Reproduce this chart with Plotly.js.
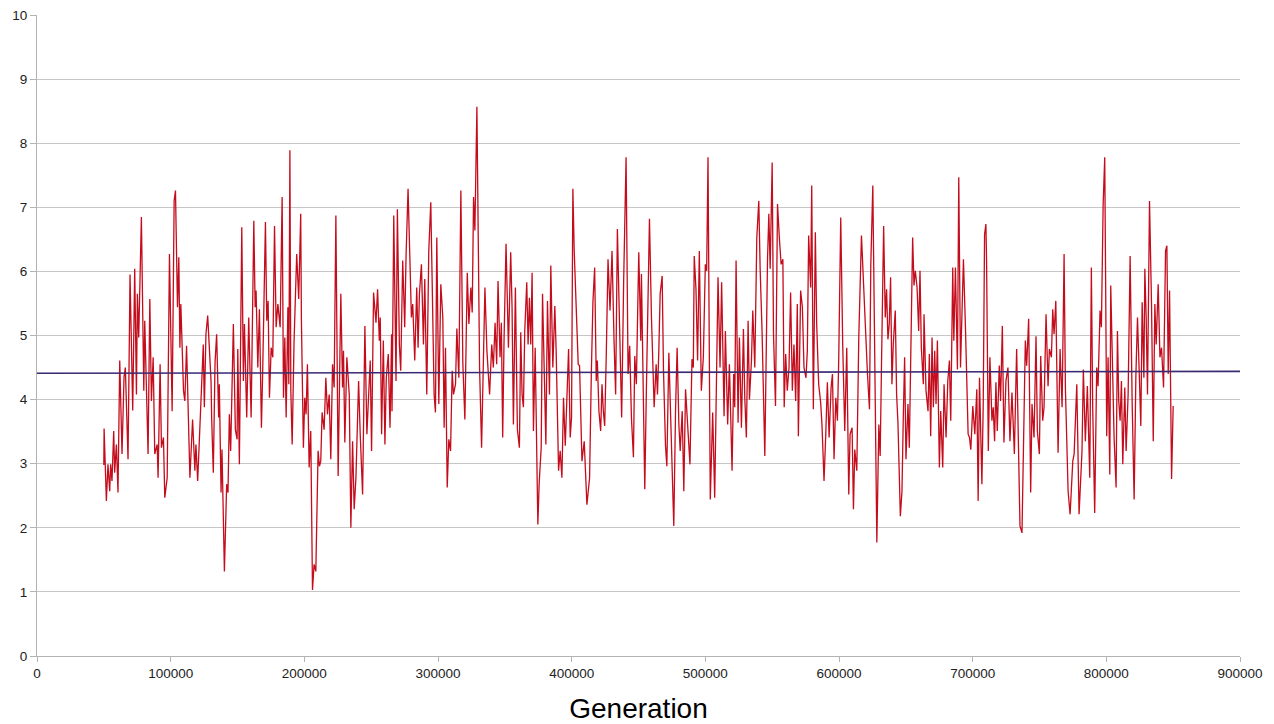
<!DOCTYPE html>
<html>
<head>
<meta charset="utf-8">
<script src="https://cdn.plot.ly/plotly-3.0.1.min.js"></script>
<style>
html,body{margin:0;padding:0;background:#fff;}
#chart{width:1274px;height:724px;}
</style>
</head>
<body>
<div id="chart"></div>
<script>
// Generation (in thousands) and value
const genK = [
50.0,50.2,51.9,53.1,54.4,55.1,56.1,57.4,58.1,59.4,60.6,61.9,63.6,65.1,66.1,68.1,69.6,71.6,73.1,74.4,75.1,76.1,78.1,79.9,80.6,83.1,84.4,85.6,86.9,88.1,89.9,90.6,92.1,93.1,94.6,95.6,97.4,99.1,101.1,102.6,103.6,104.4,105.1,106.1,106.9,107.6,109.6,110.6,111.9,114.4,116.4,118.1,
118.9,120.2,122.7,123.4,124.4,125.2,126.4,127.7,130.2,130.7,131.9,133.2,134.4,135.9,136.4,137.7,138.4,140.2,141.9,142.9,143.9,144.9,145.9,146.9,148.4,149.7,150.2,151.4,153.2,154.4,155.2,156.9,158.4,160.2,162.2,163.2,163.9,165.2,166.4,167.9,168.9,170.9,171.9,172.9,173.9,175.2,176.4,177.7,178.9,180.2,181.9,183.4,184.4,185.4,186.4,187.7,188.4,189.2,189.9,190.9,
192.3,194.3,195.8,197.3,197.8,199.3,200.3,201.3,202.3,203.6,204.8,206.1,207.3,208.6,210.3,211.3,212.3,213.3,214.8,216.1,217.3,218.6,219.8,221.1,222.3,223.6,225.3,227.3,228.6,229.3,230.3,231.8,233.6,234.8,236.1,237.3,238.6,240.6,241.8,243.6,245.3,246.8,247.8,249.3,250.3,251.8,253.6,254.8,256.1,256.8,257.8,259.1,260.3,261.3,262.8,264.1,265.3,
265.6,266.9,268.6,269.6,271.1,272.1,273.6,275.1,276.1,277.6,278.6,280.1,281.1,282.6,284.1,285.1,286.1,287.6,289.1,290.1,291.6,293.1,294.6,295.6,297.1,298.1,299.1,300.6,302.1,303.6,304.6,305.6,306.9,308.1,309.4,310.6,311.6,313.1,314.1,315.6,317.1,318.6,320.1,321.9,323.1,324.6,325.6,326.6,327.6,329.1,330.1,331.1,332.6,334.1,335.1,336.6,337.6,338.6,
340.2,341.4,342.7,343.9,344.9,346.4,347.4,348.4,349.4,350.9,352.7,354.4,355.4,356.4,357.9,359.4,360.9,361.9,362.9,363.9,364.9,366.4,367.4,368.4,369.4,370.4,371.4,372.7,374.7,375.7,377.2,378.2,379.7,380.7,381.9,383.4,384.4,385.9,387.4,388.4,390.2,391.4,392.7,393.9,395.2,396.4,397.7,398.9,399.9,400.9,401.9,404.9,405.9,407.7,409.4,411.4,
413.4,414.7,415.9,417.2,418.4,419.2,420.4,421.7,422.7,423.7,424.7,425.9,427.2,428.7,430.2,431.7,432.9,434.2,435.9,437.4,438.9,440.7,442.2,443.4,444.7,446.2,447.2,448.4,450.2,451.7,452.2,453.2,454.7,455.9,458.2,459.7,461.7,463.2,464.2,465.2,466.2,467.7,468.7,470.2,471.2,472.7,474.2,475.2,476.4,477.7,478.9,480.2,481.2,482.7,483.9,485.2,
486.7,488.5,490.0,491.0,491.7,493.0,494.2,495.5,497.0,498.5,500.0,501.0,502.0,503.7,505.5,507.0,509.5,511.0,512.2,514.0,515.0,516.7,518.0,519.0,520.0,521.2,522.0,523.0,524.5,525.5,527.0,528.5,529.5,530.7,532.0,533.0,534.5,535.5,537.0,538.5,540.0,541.0,542.5,544.5,545.5,546.5,547.5,548.5,550.0,551.0,552.5,554.0,555.5,556.7,558.0,559.0,
560.1,561.3,562.6,563.8,565.1,566.3,567.6,568.8,569.6,571.3,572.6,573.8,575.3,576.3,577.3,578.8,579.6,580.8,582.3,583.3,584.8,586.3,587.3,588.8,590.1,591.3,592.6,594.1,595.1,596.3,597.6,598.8,599.8,601.3,602.8,604.3,605.8,607.3,608.3,609.8,610.8,611.8,613.3,614.8,616.8,617.8,619.3,621.3,622.8,623.8,625.3,626.3,628.3,629.8,630.8,631.8,
633.4,634.6,635.6,636.6,637.6,638.6,639.6,640.6,642.1,643.1,644.1,645.9,647.1,648.1,649.1,650.1,651.6,652.6,654.1,655.1,656.1,657.1,658.4,659.6,660.6,661.6,663.1,663.6,665.1,666.6,667.6,668.6,669.6,670.6,671.6,672.6,673.6,675.1,676.1,677.6,678.6,680.1,681.4,682.6,683.6,685.1,685.9,687.1,688.6,689.6,690.9,692.1,693.1,694.6,696.6,697.6,698.6,700.1,701.6,703.1,704.1,705.1,
706.9,707.9,708.9,709.9,710.4,711.7,712.9,714.4,715.4,716.4,717.4,718.4,719.9,720.9,722.2,723.4,724.9,726.4,727.9,729.4,731.2,732.9,734.4,735.4,736.9,738.4,739.4,740.4,741.9,743.4,744.4,745.9,747.4,748.4,749.9,750.9,752.4,753.4,754.9,756.4,757.4,758.9,759.9,760.9,762.2,763.9,765.4,766.9,768.4,769.4,771.4,772.9,774.9,775.9,777.9,
779.6,780.8,781.8,782.8,784.3,785.8,787.6,788.8,789.8,791.3,792.8,793.8,795.3,796.3,797.6,798.8,799.3,800.3,801.3,802.6,803.3,804.6,805.8,807.3,808.3,809.3,810.3,811.3,812.3,813.8,814.8,816.3,817.8,819.3,820.8,822.1,823.3,824.8,825.8,826.8,828.1,828.8,829.8,830.8,831.6,832.3,833.8,835.1,836.3,837.3,838.8,840.1,841.3,842.8,844.3,845.3,846.3,847.3,848.8,850.0
];
const values = [
2.98,3.55,2.42,2.99,2.57,2.99,2.73,3.51,2.86,3.30,2.55,4.61,3.15,4.35,4.50,3.07,5.95,3.83,6.04,4.08,5.65,4.97,6.85,4.14,5.23,3.15,5.57,3.98,4.66,3.15,3.30,2.78,4.55,3.25,3.41,2.47,2.78,6.27,3.82,7.10,7.26,6.27,5.44,6.22,4.81,5.49,4.14,3.98,4.84,2.78,3.69,2.89,
3.30,2.73,3.98,4.50,4.86,3.88,5.02,5.31,4.29,3.69,2.86,4.58,5.02,3.72,4.24,2.55,3.22,1.32,2.68,2.55,3.77,3.20,4.55,5.18,3.53,3.38,4.79,2.99,6.69,4.29,5.18,3.72,5.28,3.72,6.79,5.44,5.70,4.50,5.41,3.56,4.50,6.77,5.23,5.54,4.03,4.81,4.66,6.71,5.13,5.49,5.13,7.16,4.03,4.97,3.72,5.44,4.24,7.89,4.14,3.30,
4.90,6.27,5.57,6.90,5.26,3.25,4.03,3.77,4.55,2.94,3.51,1.03,1.43,1.32,3.20,2.96,3.04,3.80,3.53,4.34,3.77,4.08,3.07,4.55,4.19,6.87,2.81,5.65,4.19,4.76,3.33,4.66,4.08,2.00,3.35,2.29,2.78,4.29,3.46,2.52,5.15,3.46,3.93,4.61,3.20,5.67,5.20,5.72,4.92,5.28,3.46,4.92,3.30,4.34,4.71,3.56,5.02,
3.82,6.87,4.29,6.97,4.86,4.45,6.17,5.13,6.24,7.29,6.48,5.28,5.49,4.61,5.75,4.81,5.65,6.11,4.86,5.88,4.08,6.32,7.08,5.70,4.08,3.80,6.53,3.93,5.80,5.28,3.56,4.81,2.63,3.38,3.20,4.45,4.08,4.24,5.11,4.34,7.26,4.55,3.69,5.98,5.18,5.75,5.36,7.16,6.64,8.57,5.90,4.50,3.25,4.81,5.75,4.76,4.34,4.08,
4.86,4.50,5.20,4.55,5.85,4.66,5.20,3.41,4.92,6.43,4.81,6.30,5.44,3.61,5.75,3.53,3.25,5.05,4.08,3.88,5.07,5.83,4.86,5.59,4.86,5.98,3.51,4.81,2.05,2.70,3.25,5.65,4.24,3.30,5.54,4.08,6.09,4.50,5.46,4.76,2.89,3.20,2.78,4.03,3.28,3.98,4.79,3.41,3.72,7.29,6.32,4.55,4.53,3.04,3.35,2.36,
2.78,4.40,5.52,6.06,4.29,4.61,3.82,3.51,4.24,3.82,3.59,4.71,6.19,5.39,6.32,4.92,4.08,6.66,4.92,3.72,5.85,7.78,4.40,4.84,3.72,3.10,4.68,4.24,6.30,4.92,5.96,4.50,2.60,4.16,6.82,5.28,3.88,4.55,4.08,4.76,5.65,5.93,4.45,3.28,2.96,4.73,3.46,2.89,2.03,3.82,4.81,3.61,3.20,3.82,2.57,4.16,
3.67,2.99,4.63,4.50,6.24,5.72,4.61,6.32,4.14,4.66,6.11,6.01,7.78,2.44,3.80,2.47,5.91,4.50,5.83,3.74,5.07,3.61,4.55,3.85,2.89,4.40,3.88,6.17,3.64,4.97,3.56,5.10,4.03,3.41,5.23,4.00,4.61,5.39,4.50,6.53,7.10,6.04,5.02,3.12,4.81,6.17,6.90,6.04,7.70,5.02,3.90,7.05,6.48,6.11,6.19,3.88,
4.71,4.14,4.50,5.67,4.14,4.86,3.98,5.49,3.43,5.70,5.44,4.50,4.34,4.76,6.56,5.75,7.34,3.85,6.61,5.18,4.24,3.95,3.59,2.73,3.46,4.27,3.41,4.19,4.40,3.07,4.03,3.67,4.63,6.84,4.84,3.51,4.81,2.52,3.46,3.56,2.29,3.22,2.89,4.97,6.56,6.06,5.13,4.40,3.85,6.11,7.34,5.65,1.77,3.61,3.12,4.55,
6.71,5.28,5.72,4.94,5.18,5.91,4.24,4.86,5.39,4.08,3.64,2.18,2.57,3.72,4.66,3.07,3.93,3.25,5.02,6.53,5.78,6.01,5.75,5.07,6.01,4.81,4.24,5.33,4.14,3.82,4.71,3.43,4.97,3.88,4.76,3.93,4.92,2.94,3.82,2.94,4.24,3.41,4.29,4.61,3.67,6.06,4.92,6.06,4.47,7.47,4.50,5.54,6.19,5.13,3.46,3.41,3.22,3.90,3.46,4.16,2.42,4.34,
2.68,3.93,6.58,6.74,6.17,3.20,4.66,3.67,3.88,3.35,4.27,3.51,4.53,3.98,5.15,3.33,4.29,4.50,3.35,4.11,3.15,4.79,2.73,2.03,1.92,3.51,4.92,4.53,5.26,2.55,3.93,3.41,4.99,3.51,3.15,4.68,3.67,3.88,5.33,4.21,4.79,4.66,5.41,5.02,5.54,3.17,4.79,3.88,6.27,4.16,2.57,2.21,3.04,3.15,4.24,
2.21,2.89,3.20,4.47,3.35,4.21,2.78,6.06,3.88,2.23,4.50,4.21,5.39,5.13,7.03,7.78,5.65,3.43,4.66,2.83,5.78,4.55,3.41,2.63,5.07,3.98,3.67,4.29,2.99,4.19,3.20,4.08,6.24,3.98,2.44,4.37,5.28,4.29,3.59,5.52,4.34,6.04,5.28,4.08,5.26,7.10,5.49,3.35,5.49,4.86,5.80,4.66,4.81,4.19,6.32,6.40,4.40,5.70,2.76,3.90
];
const trendX = [0, 900000];
const trendY = [4.41, 4.44];
const xTicks = [0,100000,200000,300000,400000,500000,600000,700000,800000,900000];
const yTicks = [0,1,2,3,4,5,6,7,8,9,10];

const generation = genK.map(g => g * 1000);

const traces = [
  {x: generation, y: values, type: 'scatter', mode: 'lines',
   line: {color: '#c40c1c', width: 1.3}, hoverinfo: 'x+y'},
  {x: trendX, y: trendY, type: 'scatter', mode: 'lines',
   line: {color: '#3a2a72', width: 1.6}}
];

const layout = {
  width: 1274, height: 724,
  margin: {l: 37, r: 34, t: 15, b: 68},
  paper_bgcolor: '#ffffff', plot_bgcolor: '#ffffff',
  showlegend: false,
  font: {family: 'Liberation Sans, Arial, sans-serif', color: '#222'},
  xaxis: {
    range: [0, 900000], tickvals: xTicks, ticktext: xTicks.map(String),
    showgrid: false, zeroline: false,
    showline: true, linecolor: '#b3b3b3', linewidth: 1,
    ticks: 'outside', ticklen: 5, tickcolor: '#b3b3b3',
    tickfont: {size: 13.5, color: '#222'},
    title: {text: 'Generation', font: {size: 28, color: '#000'}, standoff: 23}
  },
  yaxis: {
    range: [0, 10], tickvals: yTicks, ticktext: yTicks.map(String),
    showgrid: true, gridcolor: '#c6c6c6', gridwidth: 1,
    zeroline: false, showline: true, linecolor: '#b3b3b3', linewidth: 1,
    ticks: 'outside', ticklen: 6, tickcolor: '#b3b3b3',
    tickfont: {size: 13.5, color: '#222'}
  }
};

Plotly.newPlot('chart', traces, layout, {displayModeBar: false, staticPlot: true});
</script>
</body>
</html>
